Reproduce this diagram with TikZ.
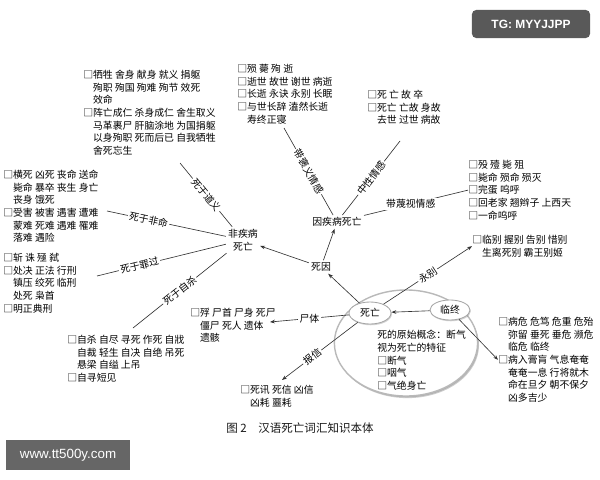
\documentclass[tikz,border=0pt]{standalone}
\usepackage{fontspec}
\newfontfamily\cjk{Noto Sans CJK SC}
\newfontfamily\wmfont{Liberation Sans}
\usetikzlibrary{shapes.geometric,shadows,arrows.meta}
\newcommand{\wbox}{□}
\newcommand{\wsp}{\phantom{□}}
\tikzset{
  words/.style={anchor=north west, inner sep=0pt, align=left, font=\cjk\fontsize{7}{9}\selectfont},
  lbl/.style={fill=white, inner sep=1pt, font=\cjk\fontsize{7}{9}\selectfont},
  oval/.style={ellipse, draw=gray!70, fill=white, line width=0.6pt, inner sep=0pt,
    drop shadow={shadow xshift=0.6pt, shadow yshift=-0.9pt, opacity=0.35}},
  link/.style={draw=black!80, line width=0.45pt},
  arr/.style={link, -{Stealth[length=3.5pt,width=2.6pt]}},
}
\begin{document}
\begin{tikzpicture}[x=0.025cm, y=-0.025cm, font=\cjk\fontsize{7}{9}\selectfont]
  \useasboundingbox (0,0) rectangle (600,480);
  \fill[white] (0,0) rectangle (600,480);
  % the oval round the core node
  \node[oval, draw=gray!55, line width=1pt, minimum width=3.58cm, minimum height=2.65cm,
    drop shadow={shadow xshift=1pt, shadow yshift=-1.5pt, opacity=0.4}] (circ) at (406,343) {};
  \node[words] (yyt) at (377,330) {死的原始概念：断气\\视为死亡的特征\\\wbox 断气\\\wbox 咽气\\\wbox 气绝身亡};
  \node[oval, minimum width=1.05cm, minimum height=0.55cm] (sw) at (370,313) {死亡};
  \node[oval, minimum width=1cm, minimum height=0.5cm] (lz) at (450,310) {临终};
  % inner nodes
  \node[inner sep=1.5pt] (sy) at (321,267) {死因};
  \node[inner sep=1.5pt] (yjb) at (337,222) {因疾病死亡};
  \node[inner sep=1.5pt, align=center] (fjb) at (243,240) {非疾病\\死亡};
  % word lists
  \node[words] (tlblk) at (83,70) {\wbox 牺牲 舍身 献身 就义 捐躯\\\wsp 殉职 殉国 殉难 殉节 效死\\\wsp 效命\\\wbox 阵亡成仁 杀身成仁 舍生取义\\\wsp 马革裹尸 肝脑涂地 为国捐躯\\\wsp 以身殉职 死而后已 自我牺牲\\\wsp 舍死忘生};
  \node[words] (tmblk) at (237,64) {\wbox 殒 薨 殉 逝\\\wbox 逝世 故世 谢世 病逝\\\wbox 长逝 永诀 永别 长眠\\\wbox 与世长辞 溘然长逝\\\wsp 寿终正寝};
  \node[words] (trblk) at (367,90) {\wbox 死 亡 故 卒\\\wbox 死亡 亡故 身故\\\wsp 去世 过世 病故};
  \node[words] (mblk) at (468,160) {\wbox 殁 殪 毙 殂\\\wbox 毙命 殒命 殒灭\\\wbox 完蛋 呜呼\\\wbox 回老家 翘辫子 上西天\\\wbox 一命呜呼};
  \node[words] (bblk) at (472,235) {\wbox 临别 握别 告别 惜别\\\wsp 生离死别 霸王别姬};
  \node[words] (lwblk) at (498,317) {\wbox 病危 危笃 危重 危殆\\\wsp 弥留 垂死 垂危 濒危\\\wsp 临危 临终\\\wbox 病入膏肓 气息奄奄\\\wsp 奄奄一息 行将就木\\\wsp 命在旦夕 朝不保夕\\\wsp 凶多吉少};
  \node[words] (fmblk) at (3,170) {\wbox 横死 凶死 丧命 送命\\\wsp 毙命 暴卒 丧生 身亡\\\wsp 丧身 饿死\\\wbox 受害 被害 遇害 遭难\\\wsp 蒙难 死难 遇难 罹难\\\wsp 落难 遇险};
  \node[words] (zgblk) at (3,253) {\wbox 斩 诛 殛 弑\\\wbox 处决 正法 行刑\\\wsp 镇压 绞死 临刑\\\wsp 处死 枭首\\\wbox 明正典刑};
  \node[words] (zsblk) at (67,335) {\wbox 自杀 自尽 寻死 作死 自戕\\\wsp 自裁 轻生 自决 自绝 吊死\\\wsp 悬梁 自缢 上吊\\\wbox 自寻短见};
  \node[words] (stblk) at (190,308) {\wbox 殍 尸首 尸身 死尸\\\wsp 僵尸 死人 遗体\\\wsp 遗骸};
  \node[words] (bxblk) at (240,385) {\wbox 死讯 死信 凶信\\\wsp 凶耗 噩耗};
  % free ends
  \coordinate (dy-end) at (180,163);
  \coordinate (fm-end) at (107,211);
  \coordinate (zg-end) at (97,276);
  \coordinate (zs-end) at (133,328);
  \coordinate (tm-end) at (284,128);
  \coordinate (tr-end) at (400,141);
  \coordinate (st-end) at (270,322);
  \coordinate (bx-end) at (282,380);
  % connectors
  \draw[link] (dy-end) -- node[lbl, sloped] {死于道义} (fjb);
  \draw[link] (fm-end) -- node[lbl, sloped, pos=0.35] {死于非命} (fjb);
  \draw[link] (zg-end) -- node[lbl, sloped, pos=0.33] {死于罪过} (fjb);
  \draw[link] (zs-end) -- node[lbl, sloped] {死于自杀} (fjb);
  \draw[arr] (sy) -- (fjb);
  \draw[arr] (sy) -- (yjb);
  \draw[link] (yjb) -- node[lbl, sloped] {带褒义情感} (tm-end);
  \draw[link] (yjb) -- node[lbl, sloped] {中性情感} (tr-end);
  \draw[link] (yjb) -- node[lbl, pos=0.45] {带蔑视情感} (mblk.west);
  \draw[arr] (sw) -- (sy);
  \draw[arr] (sw) -- node[lbl] {尸体} (st-end);
  \draw[arr] (sw) -- node[lbl, sloped, pos=0.6] {报信} (bx-end);
  \draw[arr] (sw) -- node[lbl, sloped] {永别} (bblk.west);
  \draw[arr] (lz) -- (sw);
  \draw[arr] (lz) -- (lwblk.west);
  % caption
  \node[font=\cjk\fontsize{8.2}{10}\selectfont, text=black!90] (cap) at (300,428) {图 2\quad 汉语死亡词汇知识本体};
  % watermarks
  \node[fill=black!65, rounded corners=3pt, text=white, font=\wmfont\bfseries\fontsize{8.5}{10}\selectfont,
    minimum width=2.95cm, minimum height=0.7cm] (tg) at (531,24) {TG: MYYJJPP};
  \node[fill=black!60, text=white, font=\wmfont\fontsize{9.5}{11}\selectfont,
    minimum width=3.1cm, minimum height=0.75cm] (site) at (68,455) {www.tt500y.com};
\end{tikzpicture}
\end{document}
